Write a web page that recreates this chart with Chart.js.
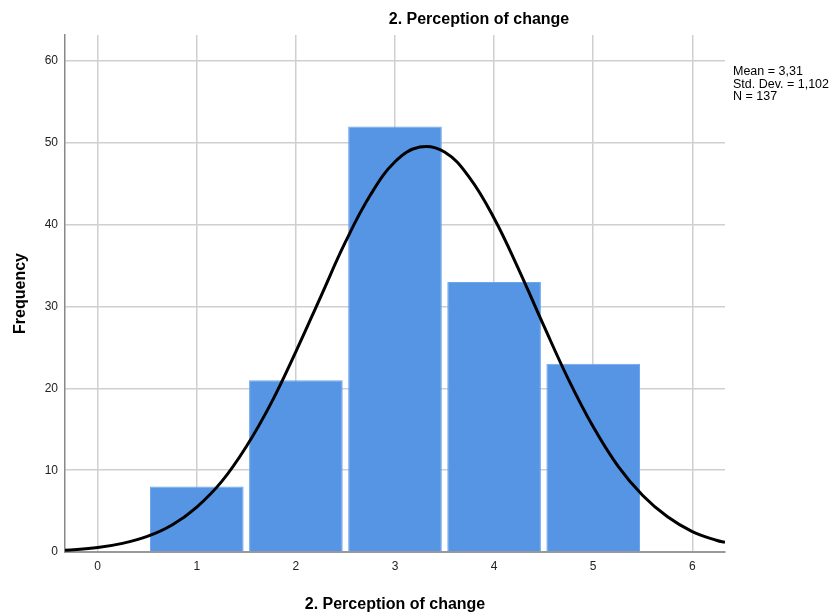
<!DOCTYPE html>
<html lang="en">
<head>
    <meta charset="UTF-8">
    <title>2. Perception of change</title>
    <script src="https://cdn.jsdelivr.net/npm/chart.js"></script>
    <style>
        html, body { margin: 0; padding: 0; background: #fff; }
        #wrap { width: 831px; height: 614px; position: relative; }
    </style>
</head>
<body>
    <div id="wrap"><canvas id="histChart" width="831" height="614"></canvas></div>

    <script>
        // Histogram: score categories and counts
        const scores = [1, 2, 3, 4, 5];
        const frequencies = [8, 21, 52, 33, 23];

        // Normal curve
        const curveX = [-0.33, 0, 0.25, 0.5, 0.75, 1, 1.25, 1.5, 1.75, 2, 2.25, 2.5, 2.75, 3, 3.25,
                        3.5, 3.75, 4, 4.25, 4.5, 4.75, 5, 5.25, 5.5, 5.75, 6, 6.25, 6.33];
        const curveY = [0.2, 0.55, 1.05, 1.9, 3.3, 5.5, 8.6, 12.9, 18.2, 24.5, 31.2, 37.9, 43.6, 47.7, 49.5,
                        48.9, 45.8, 40.8, 34.5, 27.7, 21.1, 15.3, 10.5, 6.9, 4.3, 2.5, 1.4, 1.2];

        const xTicks = [0, 1, 2, 3, 4, 5, 6];
        const yTicks = [0, 10, 20, 30, 40, 50, 60];
        const statsLines = ['Mean = 3,31', 'Std. Dev. = 1,102', 'N = 137'];
        const titleText = '2. Perception of change';

        const FONT = '"Liberation Sans", Arial, sans-serif';

        // title and the stats box
        const textPlugin = {
            id: 'textPlugin',
            afterDraw(chart) {
                const ctx = chart.ctx;
                const area = chart.chartArea;
                ctx.save();
                ctx.fillStyle = '#000';
                ctx.font = 'bold 16px ' + FONT;
                ctx.textAlign = 'center';
                ctx.textBaseline = 'middle';
                ctx.fillText(titleText, 479, 20);

                ctx.font = '12.5px ' + FONT;
                ctx.textAlign = 'left';
                ctx.textBaseline = 'alphabetic';
                statsLines.forEach((t, i) => {
                    ctx.fillText(t, area.right + 8, 75 + i * 12.5);
                });
                ctx.restore();
            }
        };

        const ctx = document.getElementById('histChart').getContext('2d');
        const histChart = new Chart(ctx, {
            type: 'bar',
            data: {
                datasets: [
                    {
                        type: 'line',
                        data: curveX.map((x, i) => ({ x: x, y: curveY[i] })),
                        borderColor: '#000',
                        borderWidth: 3,
                        pointRadius: 0,
                        tension: 0.4,
                        fill: false,
                        order: 0
                    },
                    {
                        type: 'bar',
                        data: scores.map((s, i) => ({ x: s, y: frequencies[i] })),
                        backgroundColor: '#5595e4',
                        borderColor: '#6ea6ec',
                        borderWidth: 1,
                        categoryPercentage: 1,
                        barPercentage: 0.945,
                        order: 1
                    }
                ]
            },
            options: {
                responsive: false,
                animation: false,
                layout: { padding: { top: 35, right: 106, left: 0, bottom: 0 } },
                plugins: {
                    legend: { display: false },
                    tooltip: { enabled: false }
                },
                scales: {
                    x: {
                        type: 'linear',
                        min: -0.33,
                        max: 6.33,
                        offset: false,
                        afterFit: (scale) => { scale.height = 62; },
                        afterBuildTicks: (scale) => { scale.ticks = xTicks.map(v => ({ value: v })); },
                        ticks: {
                            includeBounds: false,
                            font: { size: 12, family: FONT },
                            color: '#222',
                            padding: 7
                        },
                        grid: { color: '#cfcfcf', lineWidth: 1.5, drawTicks: false, offset: false },
                        border: { color: '#999', width: 2 },
                        title: {
                            display: true,
                            text: titleText,
                            font: { size: 16, weight: 'bold', family: FONT },
                            color: '#000',
                            padding: { top: 4, bottom: 0 }
                        }
                    },
                    y: {
                        min: 0,
                        max: 63.2,
                        afterFit: (scale) => { scale.width = 65; },
                        afterBuildTicks: (scale) => { scale.ticks = yTicks.map(v => ({ value: v })); },
                        ticks: {
                            includeBounds: false,
                            font: { size: 12, family: FONT },
                            color: '#222',
                            padding: 7
                        },
                        grid: { color: '#cfcfcf', lineWidth: 1.5, drawTicks: false },
                        border: { color: '#888', width: 1.5 },
                        title: {
                            display: true,
                            text: 'Frequency',
                            font: { size: 16, weight: 'bold', family: FONT },
                            color: '#000',
                            padding: { top: 11, bottom: 10 }
                        }
                    }
                }
            },
            plugins: [textPlugin]
        });
    </script>
</body>
</html>
